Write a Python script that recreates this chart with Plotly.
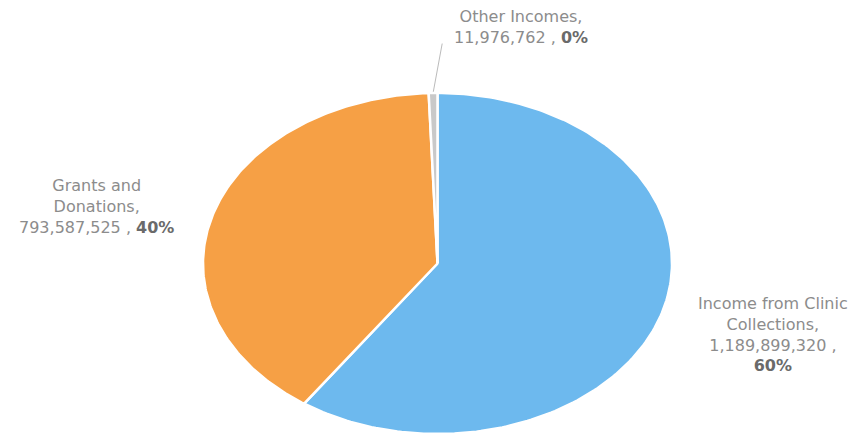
import numpy as np
import plotly.graph_objects as go

categories = ["Income from Clinic Collections", "Grants and Donations", "Other Incomes"]
label_names = ["Income from Clinic<br>Collections,", "Grants and<br>Donations,", "Other Incomes,"]
values = [1189899320, 793587525, 11976762]
pct_labels = ["60%", "40%", "0%"]
colors = ["#6DB9EE", "#F6A045", "#C9C9C9"]

fig = go.Figure()
total = sum(values)
cum = 0.0
for name, v, c in zip(categories, values, colors):
    a0 = np.pi / 2 - 2 * np.pi * cum / total
    cum += v
    a1 = np.pi / 2 - 2 * np.pi * cum / total
    t = np.linspace(a0, a1, 200)
    xs = np.concatenate([[0], np.cos(t), [0]])
    ys = np.concatenate([[0], np.sin(t), [0]])
    fig.add_trace(go.Scatter(x=xs, y=ys, fill="toself", fillcolor=c, mode="lines",
                             line=dict(color="white", width=2.5), name=name,
                             hoverinfo="name", showlegend=False))

font = dict(family="DejaVu Sans, Open Sans, sans-serif", size=16, color="#8C8C8C")
bold = "<b style='color:#6A6A6A'>"

fig.add_annotation(x=0.886, y=0.345, xref="paper", yref="paper",
                   text=label_names[0] + "<br>" + f"{values[0]:,}" + " ,<br>" + bold + pct_labels[0] + "</b>",
                   showarrow=False, font=font, align="center", xanchor="center", yanchor="top")
fig.add_annotation(x=0.103, y=0.618, xref="paper", yref="paper",
                   text=label_names[1] + "<br>" + f"{values[1]:,}" + " , " + bold + pct_labels[1] + "</b>",
                   showarrow=False, font=font, align="center", xanchor="center", yanchor="top")
fig.add_annotation(x=0.594, y=1.0, xref="paper", yref="paper", yshift=3,
                   text=label_names[2] + "<br>" + f"{values[2]:,}" + " , " + bold + pct_labels[2] + "</b>",
                   showarrow=False, font=font, align="center", xanchor="center", yanchor="top")

mid = np.pi / 2 - 2 * np.pi * (total - values[2] / 2) / total
fig.add_shape(type="line", xref="x", yref="y",
              x0=np.cos(mid), y0=np.sin(mid), x1=0.02, y1=1.29,
              line=dict(color="#BBBBBB", width=1), layer="below")

ry_top = -1 + 426 / 170.5
fig.update_xaxes(range=[-1.0, 1.0], domain=[195 / 863, 664 / 863], visible=False, fixedrange=True)
fig.update_yaxes(range=[-1.0, ry_top], domain=[1 - 426 / 434, 1.0], visible=False, fixedrange=True)
fig.update_layout(width=863, height=434, margin=dict(l=0, r=0, t=0, b=0),
                  paper_bgcolor="white", plot_bgcolor="white")
fig.write_html("out.html")
